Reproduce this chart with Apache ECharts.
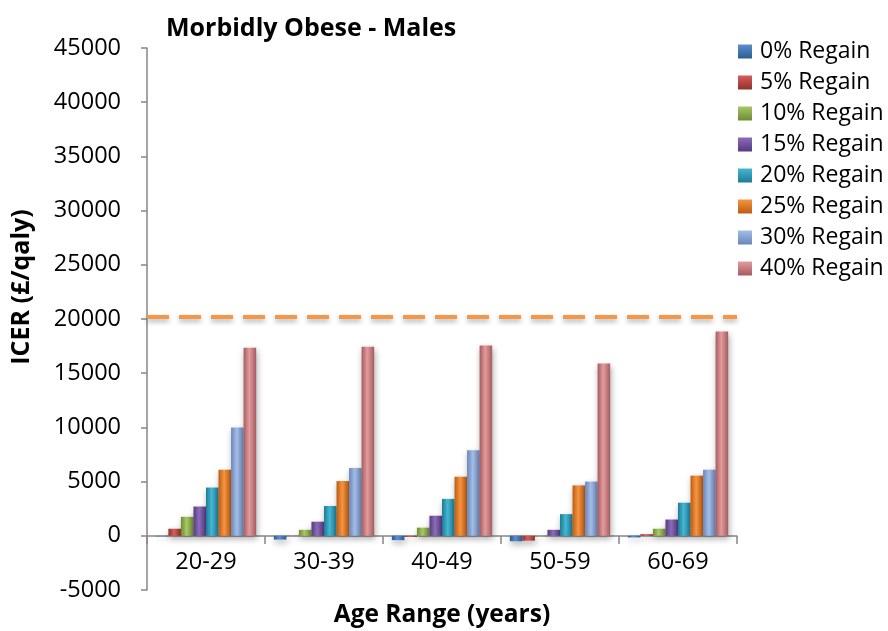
<!DOCTYPE html>
<html>
<head>
<meta charset="utf-8">
<script src="https://cdn.jsdelivr.net/npm/echarts@6/dist/echarts.min.js"></script>
<style>
  html, body { margin: 0; padding: 0; background: #ffffff; }
  #chart { width: 888px; height: 631px; }
</style>
</head>
<body>
<div id="chart"></div>
<script>
// Age bands and ICER (£/QALY) per weight-regain scenario
const categories = ['20-29', '30-39', '40-49', '50-59', '60-69'];
const regain0  = [-50, -350, -400, -500, -150];
const regain5  = [650, -30, -100, -450, 150];
const regain10 = [1750, 550, 750, -50, 650];
const regain15 = [2700, 1300, 1850, 550, 1500];
const regain20 = [4450, 2750, 3400, 2000, 3050];
const regain25 = [6100, 5050, 5450, 4650, 5550];
const regain30 = [10000, 6250, 7900, 5000, 6100];
const regain40 = [17350, 17450, 17550, 15900, 18850];
const seriesNames = ['0% Regain', '5% Regain', '10% Regain', '15% Regain',
                     '20% Regain', '25% Regain', '30% Regain', '40% Regain'];
const thresholdValue = 20200;
const yTicks = { min: -5000, max: 45000, step: 5000 };

const FONT = 'Open Sans';

// bevel-like shading: darker edges, lighter centre
const palette = [
  ['#2d5c92', '#5b8fd0'],
  ['#93302c', '#d45f5a'],
  ['#6c8c30', '#a8c768'],
  ['#573a82', '#8b6cb8'],
  ['#1d7b95', '#45b6d3'],
  ['#bd5c10', '#f59441'],
  ['#6a85b9', '#a3bde7'],
  ['#a65b5e', '#e29c9d']
];
function shade(c) {
  return new echarts.graphic.LinearGradient(0, 0, 1, 0, [
    { offset: 0, color: c[0] },
    { offset: 0.45, color: c[1] },
    { offset: 1, color: c[0] }
  ]);
}
function legendFill(c) {
  return new echarts.graphic.LinearGradient(0, 0, 0, 1, [
    { offset: 0, color: c[1] },
    { offset: 1, color: c[0] }
  ]);
}

const values = [regain0, regain5, regain10, regain15, regain20, regain25, regain30, regain40];

const series = values.map((v, i) => ({
  name: seriesNames[i],
  type: 'bar',
  data: v,
  barGap: '0%',
  barCategoryGap: '15%',
  itemStyle: {
    color: shade(palette[i]),
    shadowColor: 'rgba(0,0,0,0.35)',
    shadowBlur: 6,
    shadowOffsetX: 1,
    shadowOffsetY: 3
  }
}));

// willingness-to-pay threshold
series[0].markLine = {
  silent: true,
  symbol: ['none', 'none'],
  label: { show: false },
  lineStyle: {
    color: '#f79646',
    width: 4,
    type: [22, 10],
    shadowColor: 'rgba(0,0,0,0.3)',
    shadowBlur: 5,
    shadowOffsetY: 3
  },
  data: [{ yAxis: thresholdValue }]
};

const chart = echarts.init(document.getElementById('chart'), null, { renderer: 'canvas' });
chart.setOption({
  animation: false,
  backgroundColor: '#ffffff',
  textStyle: { fontFamily: FONT },
  title: {
    text: 'Morbidly Obese - Males',
    left: 161,
    top: 11,
    textStyle: { fontFamily: FONT, fontSize: 25, fontWeight: 'bold', color: '#000' }
  },
  legend: {
    orient: 'vertical',
    left: 733,
    top: 35,
    itemWidth: 14,
    itemHeight: 14,
    itemGap: 8,
    icon: 'rect',
    textStyle: { fontFamily: FONT, fontSize: 23, color: '#000', padding: [0, 0, 0, 3] },
    data: seriesNames.map((n, i) => ({ name: n, itemStyle: { color: legendFill(palette[i]) } }))
  },
  grid: { left: 147, right: 151, top: 48, bottom: 41, containLabel: false, outerBoundsMode: 'none' },
  xAxis: {
    type: 'category',
    data: categories,
    name: 'Age Range (years)',
    nameLocation: 'middle',
    nameGap: 67,
    nameMoveOverlap: false,
    nameTextStyle: { fontFamily: FONT, fontSize: 24.5, fontWeight: 'bold', color: '#000' },
    offset: -54,
    axisLine: { onZero: false, lineStyle: { color: '#868686', width: 1.5 } },
    axisTick: { show: true, length: 8, interval: 0, lineStyle: { color: '#868686', width: 1.5 } },
    axisLabel: { fontFamily: FONT, fontSize: 23.5, color: '#000', margin: 14 }
  },
  yAxis: {
    type: 'value',
    min: yTicks.min,
    max: yTicks.max,
    interval: yTicks.step,
    axisLine: { show: true, lineStyle: { color: '#868686', width: 1.5 } },
    axisTick: { show: true, length: 6, lineStyle: { color: '#868686', width: 1.5 } },
    splitLine: { show: false },
    axisLabel: {
      fontFamily: FONT, fontSize: 23.5, color: '#000', margin: 26,
      formatter: (v) => String(v)
    }
  },
  graphic: [{
    type: 'text',
    x: 22,
    y: 287,
    rotation: Math.PI / 2,
    style: {
      text: 'ICER (£/qaly)',
      font: 'bold 25px "' + FONT + '"',
      fill: '#000',
      align: 'center',
      verticalAlign: 'middle'
    }
  }],
  series: series
});
</script>
</body>
</html>
